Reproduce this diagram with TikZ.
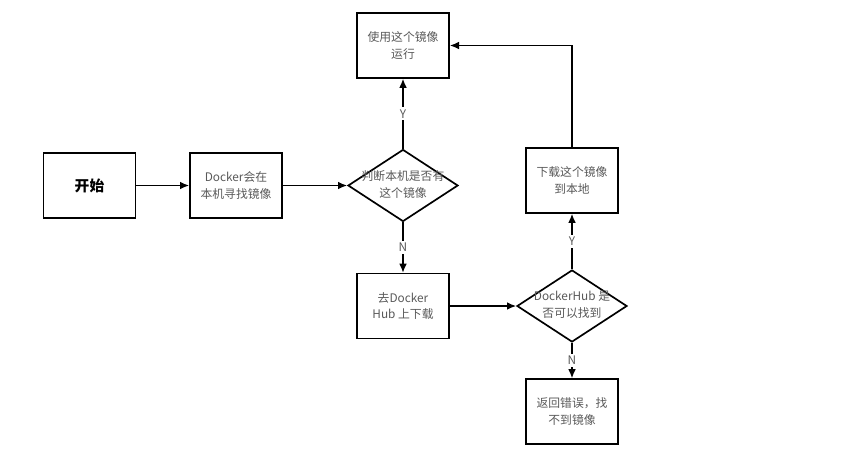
\documentclass[tikz,border=0pt]{standalone}
\usepackage{fontspec}
\setmainfont{Noto Sans CJK SC}
\usetikzlibrary{shapes.geometric,arrows.meta}
\newcommand{\qtext}[2]{\makebox[0pt]{\begin{tabular}{@{}c@{}}#1\\#2\end{tabular}}}

\begin{document}
\begin{tikzpicture}[x=0.025cm, y=-0.025cm, >={Latex[length=6.5pt,width=5.5pt]},
  box/.style={rectangle, draw, line width=1.2pt, minimum width=2.3cm, minimum height=1.62cm,
    align=center, text=black!65, font=\fontsize{8.4}{12}\selectfont},
  ask/.style={diamond, draw, line width=1.2pt, inner sep=0pt, minimum width=2.75cm, minimum height=1.8cm,
    text=black!65, font=\fontsize{8.4}{12}\selectfont},
  yn/.style={fill=white, inner sep=1.5pt, text=black!65, font=\fontsize{8.4}{10}\selectfont},
  every path/.style={line width=1pt}]
\useasboundingbox (0,0) rectangle (853,450);
\path (89.5,185.5) node[box, text=black, font=\fontsize{10.5}{12}\bfseries](start) {开始}
(236,185.5) node[box](find) {Docker会在\\本机寻找镜像}
(403,185.5) node[ask](local) {\qtext{判断本机是否有}{这个镜像}}
(403,45.5) node[box](run) {使用这个镜像\\运行}
(403,306) node[box](pull) {去Docker\\Hub 上下载}
(572,306) node[ask](hub) {\qtext{DockerHub 是}{否可以找到}}
(572,180.5) node[box](fetch) {下载这个镜像\\到本地}
(572,411.5) node[box](fail) {返回错误，找\\不到镜像};
\draw[->] (start) -- (find);
\draw[->] (find) -- (local);
\draw[->] (local) -- node[yn] {Y} (run);
\draw[->] (local) -- node[yn] {N} (pull);
\draw[->] (pull) -- (hub);
\draw[->] (hub) -- node[yn] {Y} (fetch);
\draw[->] (hub) -- node[yn] {N} (fail);
\draw[->] (fetch) |- (run);
\end{tikzpicture}
\end{document}
